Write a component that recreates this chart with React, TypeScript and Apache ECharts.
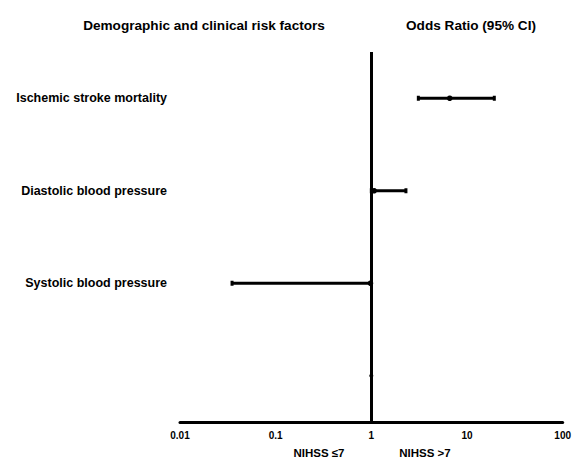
import React, { useEffect, useRef } from "react";
import * as echarts from "echarts";

const categories = ["", "Systolic blood pressure", "Diastolic blood pressure", "Ischemic stroke mortality"];
const estimates = [1.0, 0.98, 1.07, 6.6];
const lowerCI = [1.0, 0.035, 1.0, 3.1];
const upperCI = [1.0, 1.0, 2.3, 19.3];
const xTicks = [0.01, 0.1, 1, 10, 100];
const headerLeft = "Demographic and clinical risk factors";
const headerRight = "Odds Ratio (95% CI)";
const groupLeft = "NIHSS ≤7";
const groupRight = "NIHSS >7";

const FONT = "Arial, 'Liberation Sans', sans-serif";

export default function App() {
  const ref = useRef<HTMLDivElement>(null);
  useEffect(() => {
    if (!ref.current) return;
    const chart = echarts.init(ref.current, null, { renderer: "svg" });
    const data = categories.map((c, i) => [i, lowerCI[i], estimates[i], upperCI[i]]);
    chart.setOption({
      animation: false,
      backgroundColor: "#ffffff",
      grid: { left: 180, right: 8, top: 52, bottom: 37, containLabel: false },
      xAxis: {
        type: "log",
        logBase: 10,
        min: xTicks[0],
        max: xTicks[xTicks.length - 1],
        splitLine: { show: false },
        axisTick: { show: false },
        axisLine: { show: true, lineStyle: { color: "#000", width: 3 } },
        axisLabel: {
          color: "#000",
          fontWeight: "bold",
          fontSize: 10,
          fontFamily: FONT,
          margin: 8,
          formatter: (v: number) => {
            const t = xTicks.find((x) => Math.abs(Math.log10(x) - Math.log10(v)) < 1e-6);
            return t !== undefined ? String(t) : "";
          },
        },
      },
      yAxis: {
        type: "category",
        data: categories,
        boundaryGap: true,
        axisLine: { show: false },
        axisTick: { show: false },
        splitLine: { show: false },
        axisLabel: {
          color: "#000",
          fontWeight: "bold",
          fontSize: 12.5,
          fontFamily: FONT,
          margin: 13,
        },
      },
      series: [
        {
          type: "custom",
          data,
          markLine: {
            silent: true,
            symbol: ["none", "none"],
            label: { show: false },
            lineStyle: { color: "#000", width: 3, type: "solid" },
            data: [{ xAxis: 1 }],
          },
          renderItem: (params: any, api: any) => {
            const row = api.value(0);
            const lo = api.coord([api.value(1), row]);
            const est = api.coord([api.value(2), row]);
            const hi = api.coord([api.value(3), row]);
            const y = est[1];
            const single = Math.abs(hi[0] - lo[0]) < 1;
            const children: any[] = [];
            if (!single) {
              children.push({
                type: "line",
                shape: { x1: lo[0], y1: y, x2: hi[0], y2: y },
                style: { stroke: "#000", lineWidth: 3 },
              });
              children.push({
                type: "rect",
                shape: { x: lo[0] - 1.5, y: y - 2.5, width: 3, height: 5 },
                style: { fill: "#000" },
              });
              children.push({
                type: "rect",
                shape: { x: hi[0] - 1.5, y: y - 2.5, width: 3, height: 5 },
                style: { fill: "#000" },
              });
            }
            children.push({
              type: "circle",
              shape: { cx: est[0], cy: y, r: single ? 2 : 2.8 },
              style: { fill: "#000" },
            });
            return { type: "group", children };
          },
        },
      ],
      graphic: [
        {
          type: "text",
          x: 204,
          y: 25,
          style: { text: headerLeft, fill: "#000", font: `bold 13.6px ${FONT}`, align: "center", verticalAlign: "middle" },
        },
        {
          type: "text",
          x: 471,
          y: 25,
          style: { text: headerRight, fill: "#000", font: `bold 13.6px ${FONT}`, align: "center", verticalAlign: "middle" },
        },
        {
          type: "text",
          x: 319,
          y: 453,
          style: { text: groupLeft, fill: "#000", font: `bold 11.5px ${FONT}`, align: "center", verticalAlign: "middle" },
        },
        {
          type: "text",
          x: 425,
          y: 453,
          style: { text: groupRight, fill: "#000", font: `bold 11.5px ${FONT}`, align: "center", verticalAlign: "middle" },
        },
      ],
    });
    return () => chart.dispose();
  }, []);
  return <div ref={ref} style={{ width: 574, height: 459, position: "fixed", left: 0, top: 0 }} />;
}
